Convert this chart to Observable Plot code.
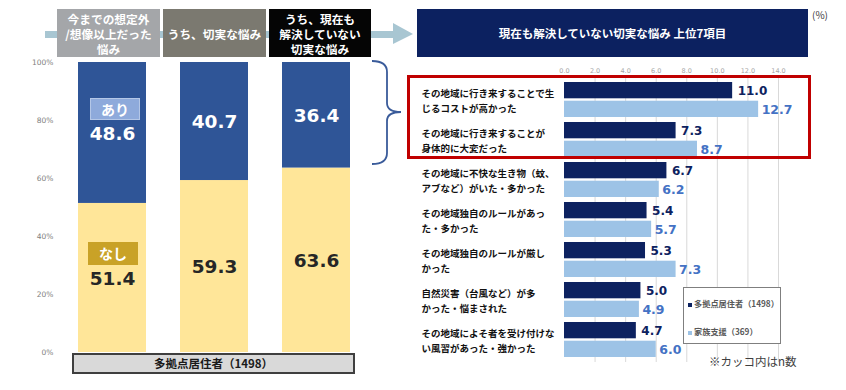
<!DOCTYPE html>
<html><head><meta charset="utf-8">
<script src="https://cdn.jsdelivr.net/npm/d3@7"></script>
<script src="https://cdn.jsdelivr.net/npm/@observablehq/plot@0.6"></script>
<style>
body{margin:0;background:#fff;}
#root{position:relative;width:846px;height:390px;overflow:hidden;font-family:"Noto Sans CJK JP",sans-serif;}
.hbox{position:absolute;top:9px;height:48px;display:flex;align-items:center;justify-content:center;text-align:center;color:#fff;font-weight:bold;font-size:11.7px;line-height:15px;white-space:pre;}
.abs{position:absolute;}
</style></head><body><div id="root"></div>
<script>
// ---- data ----
const leftCats = ["今までの想定外\n/想像以上だった\n悩み", "うち、切実な悩み", "うち、現在も\n解決していない\n切実な悩み"];
const ariValues = [48.6, 40.7, 36.4];
const nashiValues = [51.4, 59.3, 63.6];
const leftTicks = [0, 20, 40, 60, 80, 100];

const rightCats = [
  "その地域に行き来することで生\nじるコストが高かった",
  "その地域に行き来することが\n身体的に大変だった",
  "その地域に不快な生き物（蚊、\nアブなど）がいた・多かった",
  "その地域独自のルールがあっ\nた・多かった",
  "その地域独自のルールが厳し\nかった",
  "自然災害（台風など）が多\nかった・悩まされた",
  "その地域によそ者を受け付けな\nい風習があった・強かった"
];
const multiValues = [11.0, 7.3, 6.7, 5.4, 5.3, 5.0, 4.7];
const familyValues = [12.7, 8.7, 6.2, 5.7, 7.3, 4.9, 6.0];
const rightTicks = [0, 2, 4, 6, 8, 10, 12, 14];
const seriesNames = ["多拠点居住者（1498）", "家族支援（369）"];

const root = document.getElementById("root");
const JP = '"Noto Sans CJK JP", sans-serif';
const NUM = '"DejaVu Sans", sans-serif';

// ---- background decorations (arrow) ----
const ns = "http://www.w3.org/2000/svg";
const bg = document.createElementNS(ns, "svg");
bg.setAttribute("width", 846); bg.setAttribute("height", 390);
bg.style.position = "absolute"; bg.style.left = "0"; bg.style.top = "0";
bg.innerHTML = `<rect x="45" y="31" width="350" height="7" fill="#a8c6d2"/>
<path d="M393,23 L413,34 L393,44 Z" fill="#a8c6d2"/>`;
root.appendChild(bg);

// ---- left chart ----
const leftData = [];
leftCats.forEach((c, i) => {
  leftData.push({cat: c, type: "なし", value: nashiValues[i]});
  leftData.push({cat: c, type: "あり", value: ariValues[i]});
});

const left = Plot.plot({
  width: 400, height: 390,
  marginTop: 62, marginBottom: 38, marginLeft: 44, marginRight: 16,
  style: {background: "transparent", fontFamily: JP},
  x: {domain: leftCats, padding: 1/3, axis: null},
  y: {domain: [0, 100], axis: null},
  color: {domain: ["なし", "あり"], range: ["#ffe699", "#2f5597"]},
  marks: [
    Plot.axisY({ticks: leftTicks, label: null, tickSize: 0, tickPadding: 0, dx: 9, tickFormat: d => d + "%", fontSize: 7.5, color: "#808080", fontFamily: NUM}),
    Plot.barY(leftData, {x: "cat", y: "value", fill: "type"}),
    Plot.text(leftData, Plot.stackY({x: "cat", y: "value", z: "type", text: d => d.type === "あり" ? d.value.toFixed(1) : "",
      fill: "#ffffff", fontSize: 18.5, fontWeight: "bold", fontFamily: NUM, dy: 1})),
    Plot.text(leftData, Plot.stackY({x: "cat", y: "value", z: "type", text: d => d.type === "なし" ? d.value.toFixed(1) : "",
      fill: "#262626", fontSize: 18.5, fontWeight: "bold", fontFamily: NUM, dy: 1}))
  ]
});
left.style.position = "absolute"; left.style.left = "0px"; left.style.top = "0px";
root.appendChild(left);

// ---- right chart ----
const multiData = rightCats.map((c, i) => ({cat: c, value: multiValues[i]}));
const familyData = rightCats.map((c, i) => ({cat: c, value: familyValues[i]}));

const right = Plot.plot({
  width: 446, height: 390,
  marginTop: 80, marginBottom: 31, marginLeft: 164, marginRight: 68,
  style: {background: "transparent", fontFamily: JP},
  x: {domain: [0, 14], axis: null},
  y: {domain: rightCats, paddingInner: 0.135, paddingOuter: 0, axis: null},
  marks: [
    Plot.ruleX(rightTicks.filter(t => t > 0), {stroke: "#d9d9d9", strokeWidth: 1, insetTop: -5, insetBottom: -3}),
    Plot.axisX({anchor: "top", ticks: rightTicks, label: null, tickFormat: d => d.toFixed(1), tickSize: 0, tickPadding: 8, fontSize: 6.5, color: "#a6a6a6", fontFamily: NUM}),
    Plot.barX(multiData, {x: "value", y: "cat", fill: "#0d2260", insetBottom: 18.7}),
    Plot.barX(familyData, {x: "value", y: "cat", fill: "#9dc3e6", insetTop: 18.7}),
    Plot.text(multiData, {x: "value", y: "cat", text: d => d.value.toFixed(1), dx: 5, dy: -8.8, textAnchor: "start",
      fill: "#0d2260", fontSize: 12, fontWeight: "bold", fontFamily: NUM}),
    Plot.text(familyData, {x: "value", y: "cat", text: d => d.value.toFixed(1), dx: 3, dy: 10, textAnchor: "start",
      fill: "#4472c4", fontSize: 12.5, fontWeight: "bold", fontFamily: NUM}),
    Plot.text(rightCats, {y: d => d, text: d => d, frameAnchor: "left", dx: -143, textAnchor: "start",
      lineHeight: 1.55, fontSize: 9.5, fontWeight: "bold", fill: "#111111", fontFamily: JP})
  ]
});
right.style.position = "absolute"; right.style.left = "400px"; right.style.top = "0px";
root.appendChild(right);

// ---- header boxes ----
function addDiv(style, text, cls) {
  const d = document.createElement("div");
  if (cls) d.className = cls; else d.className = "abs";
  Object.assign(d.style, style);
  if (text != null) d.textContent = text;
  root.appendChild(d);
  return d;
}
const hColors = ["#a4a6a9", "#7b7970", "#050505"];
const hPos = [[57, 103], [163, 103], [269, 102]];
leftCats.forEach((c, i) => {
  addDiv({left: hPos[i][0] + "px", width: hPos[i][1] + "px", background: hColors[i]}, c, "hbox");
});
addDiv({left: "417px", width: "391px", background: "#0c2160", fontSize: "11.5px"}, "現在も解決していない切実な悩み 上位7項目", "hbox");
addDiv({left: "812px", top: "7px", fontSize: "10px", color: "#404040"}, "(%)");

// badges
addDiv({left: "90px", top: "98px", width: "50px", height: "22px", background: "#8eaadb", border: "1px solid #b4c7e7", boxSizing: "border-box",
  color: "#fff", fontWeight: "bold", fontSize: "14px", lineHeight: "20px", textAlign: "center"}, "あり");
addDiv({left: "88px", top: "242px", width: "50px", height: "23px", background: "#c9a227", color: "#fff", fontWeight: "bold",
  fontSize: "14px", lineHeight: "23px", textAlign: "center"}, "なし");

// bottom category box
addDiv({left: "72px", top: "353px", width: "283px", height: "21px", background: "#d9d9d9", border: "2px solid #3f3f3f",
  boxSizing: "border-box", fontWeight: "bold", fontSize: "11.5px", lineHeight: "17px", textAlign: "center", color: "#1a1a1a"}, "多拠点居住者（1498）");

// legend
const lg = addDiv({left: "683px", top: "287px", width: "98px", height: "57px", background: "#fff", border: "1px solid #7f7f7f",
  boxSizing: "border-box", fontSize: "8.2px", fontWeight: "bold", color: "#595959"});
const lgColors = ["#0d2260", "#9dc3e6"];
seriesNames.forEach((s, i) => {
  const row = document.createElement("div");
  row.style.position = "absolute"; row.style.left = "4px"; row.style.top = (i === 0 ? 10 : 38) + "px";
  row.style.whiteSpace = "nowrap"; row.style.lineHeight = "10px";
  row.innerHTML = `<span style="display:inline-block;width:4px;height:4px;background:${lgColors[i]};margin-right:2px;vertical-align:middle"></span>${s}`;
  lg.appendChild(row);
});

addDiv({left: "709px", top: "353px", fontSize: "11.5px", color: "#404040"}, "※カッコ内はn数");

// ---- foreground decorations (brace, red box) ----
const fg = document.createElementNS(ns, "svg");
fg.setAttribute("width", 846); fg.setAttribute("height", 390);
fg.style.position = "absolute"; fg.style.left = "0"; fg.style.top = "0"; fg.style.pointerEvents = "none";
fg.innerHTML = `<path d="M372,61 Q387,61 387,72 L387,103 Q387,112 401,112 Q387,112 387,121 L387,153 Q387,164 372,164" fill="none" stroke="#3a5b9a" stroke-width="1.8"/>
<rect x="408.5" y="76.5" width="401" height="81" fill="none" stroke="#c00000" stroke-width="3"/>`;
root.appendChild(fg);
</script>
</body></html>
